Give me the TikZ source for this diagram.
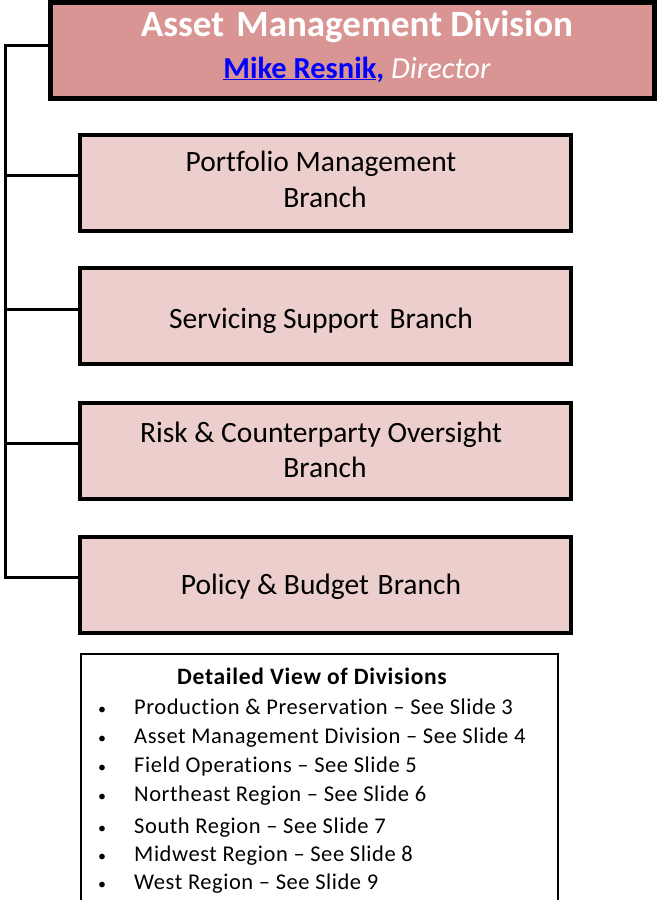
\documentclass[tikz,border=0pt]{standalone}
\usepackage{fontspec}
\setmainfont{Carlito}[Ligatures=NoCommon]
\definecolor{topfill}{HTML}{D99594}
\definecolor{brfill}{HTML}{ECCFCD}
\definecolor{linkblue}{HTML}{0000FF}
\begin{document}
\begin{tikzpicture}[x=1pt,y=-1pt,
  topbox/.style={draw=black,line width=4.5pt,fill=topfill,minimum width=604pt,minimum height=96pt,inner sep=0pt},
  brbox/.style={draw=black,line width=4pt,fill=brfill,minimum width=491pt,minimum height=96pt,inner sep=0pt},
  brtext/.style={anchor=base,inner sep=0pt,font=\fontsize{29.5}{36}\selectfont},
  legbox/.style={draw=black,line width=2pt,fill=white,minimum width=477pt,minimum height=260pt,inner sep=0pt},
  conn/.style={draw=black,line width=3pt},
  item/.style={anchor=base west,inner sep=0pt,font=\fontsize{22.5}{26}\selectfont\addfontfeature{LetterSpace=2.5}},
  bul/.style={anchor=base,inner sep=0pt,font=\fontsize{16}{20}\selectfont}]
\useasboundingbox (0,0) rectangle (658,900);
\node[topbox] (top) at (352.6,50.3) {};
\node[anchor=base,inner sep=0pt,text=white,font=\fontsize{37}{40}\bfseries] (title) at (357,36) {Asset\hspace{4pt} Management Division};
\node[anchor=base,inner sep=0pt,font=\fontsize{30.5}{34}\selectfont] (dir) at (357,78) {\textcolor{linkblue}{\bfseries\underline{Mike Resnik},}\textcolor{white}{\itshape\ Director}};
\node[brbox] (pm) at (325,182.5) {};
\node[brbox] (ss) at (325,316) {};
\node[brbox] (rc) at (325,450.5) {};
\node[brbox] (pb) at (325,584.5) {};
\node[brtext] (pmt1) at (321,171.5) {Portfolio Management};
\node[brtext] (pmt2) at (325,207.5) {Branch};
\node[brtext] (sst) at (321,328.5) {Servicing Support\hspace{4pt} Branch};
\node[brtext] (rct1) at (321,442.5) {Risk \& Counterparty Oversight};
\node[brtext] (rct2) at (325,477.5) {Branch};
\node[brtext] (pbt) at (321,594.5) {Policy \& Budget\hspace{2pt} Branch};
\node[legbox,anchor=north west] (leg) at (80.3,653) {};
\node[anchor=base,inner sep=0pt,font=\fontsize{23.5}{26}\bfseries\addfontfeature{LetterSpace=3}] (legt) at (312,684) {Detailed View of Divisions};
\coordinate (c0) at (5,45.5);
\coordinate (c1) at (5,175);
\coordinate (c2) at (5,309);
\coordinate (c3) at (5,443);
\coordinate (c4) at (5,577.5);
\draw[conn,line cap=rect] (top.west |- c0) -- (c0) -- (c4) -- (pb.west |- c4);
\draw[conn] (c1) -- (pm.west |- c1);
\draw[conn] (c2) -- (ss.west |- c2);
\draw[conn] (c3) -- (rc.west |- c3);
\node[bul] (b1) at (102,714) {•}; \node[item] (i1) at (134,714) {Production \& Preservation\ -- See Slide 3};
\node[bul] (b2) at (102,743) {•}; \node[item] (i2) at (134,743) {Asset Management Division -- See Slide\ 4};
\node[bul] (b3) at (102,772) {•}; \node[item] (i3) at (134,772) {Field Operations -- See Slide\ 5};
\node[bul] (b4) at (102,801) {•}; \node[item] (i4) at (134,801) {Northeast Region -- See Slide 6};
\node[bul] (b5) at (102,833) {•}; \node[item] (i5) at (134,833) {South Region -- See Slide 7};
\node[bul] (b6) at (102,861) {•}; \node[item] (i6) at (134,861) {Midwest Region -- See Slide 8};
\node[bul] (b7) at (102,889) {•}; \node[item] (i7) at (134,889) {West Region -- See Slide 9};
\end{tikzpicture}
\end{document}
